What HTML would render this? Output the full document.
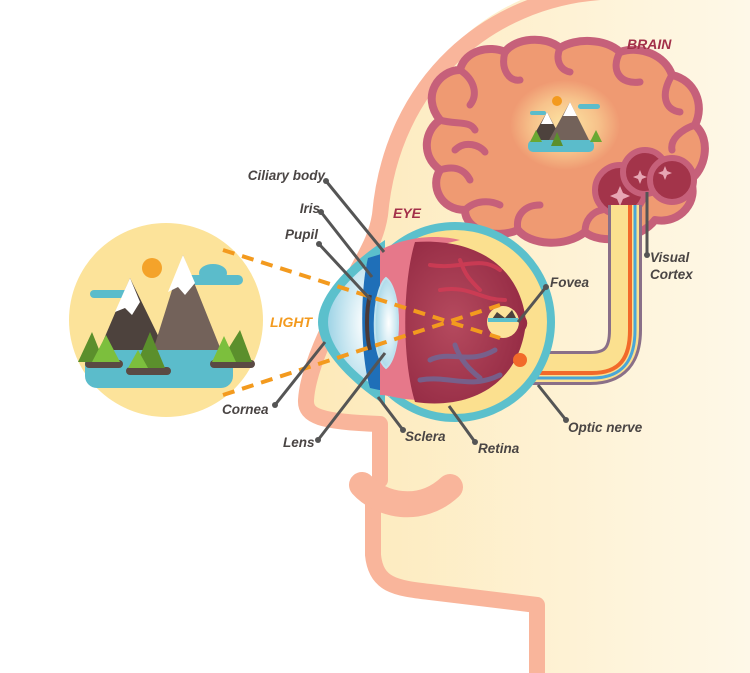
<!DOCTYPE html>
<html><head><meta charset="utf-8"><style>
html,body{margin:0;padding:0;background:#fff;}
svg{display:block;}
text{font-family:"Liberation Sans",sans-serif;font-style:italic;font-weight:bold;}
</style></head><body>
<svg width="750" height="673" viewBox="0 0 750 673" xmlns="http://www.w3.org/2000/svg">
<defs>
<linearGradient id="skin" x1="0" x2="1" y1="0" y2="0">
<stop offset="0" stop-color="#fde9b8"/><stop offset="1" stop-color="#fef8e8"/></linearGradient>
<radialGradient id="glow" cx="0.5" cy="0.5" r="0.5">
<stop offset="0" stop-color="#fde9a6"/><stop offset="0.6" stop-color="#f7c48c"/><stop offset="1" stop-color="#ef9a72"/></radialGradient>
<radialGradient id="corn" cx="0.6" cy="0.5" r="0.6">
<stop offset="0" stop-color="#ffffff"/><stop offset="1" stop-color="#9fd4e6"/></radialGradient>
<radialGradient id="inner" cx="0.4" cy="0.5" r="0.6">
<stop offset="0" stop-color="#b54a5e"/><stop offset="1" stop-color="#962c45"/></radialGradient>
</defs>

<!-- head fill -->
<path d="M600,-20 C480,-10 390,80 378,220 L360,250 C340,300 305,360 303,400 C302,418 320,422 378,424 L378,480 L368,500 L368,555 C372,585 395,590 430,595 L537,605 L537,673 L750,673 L750,-20 Z" fill="url(#skin)"/>
<!-- head outline -->
<path d="M600,-8 C490,0 392,80 380,215 C376,240 365,255 355,275 C335,315 308,365 306,400 C305,416 320,422 380,424 L380,480" fill="none" stroke="#f9b59b" stroke-width="16" stroke-linejoin="round" stroke-linecap="round"/>
<path d="M373,495 L373,555 C376,585 395,588 430,592 L537,605 L537,673" fill="none" stroke="#f9b59b" stroke-width="16" stroke-linejoin="round"/>
<path d="M362,485 C380,505 420,515 450,487" fill="none" stroke="#f9b59b" stroke-width="26" stroke-linecap="round"/>

<!-- brain -->
<g>
<path d="M440,120 C420,95 440,70 460,70 C465,50 490,45 505,52 C515,38 545,35 560,48 C575,38 605,38 620,52 C640,45 665,55 672,75 C695,80 705,105 695,125 C712,140 705,170 690,180 C700,200 680,225 655,220 C640,240 600,245 585,232 C565,248 530,245 518,230 C495,240 465,230 465,210 C440,210 430,185 440,170 C420,155 425,130 440,120 Z" fill="#ef9a72" stroke="#c6607a" stroke-width="8" stroke-linejoin="round"/>
<g fill="none" stroke="#c6607a" stroke-width="7" stroke-linecap="round">
<path d="M460,70 C475,80 478,95 470,105"/>
<path d="M505,52 C500,70 510,82 520,80"/>
<path d="M560,48 C555,60 560,70 570,72"/>
<path d="M620,52 C610,70 620,85 640,82"/>
<path d="M672,75 C660,95 665,110 680,112"/>
<path d="M695,125 C680,130 670,140 672,150"/>
<path d="M440,170 C455,165 465,170 470,180"/>
<path d="M465,210 C475,200 490,200 500,205"/>
<path d="M518,230 C515,215 525,205 540,205"/>
<path d="M585,232 C585,220 592,212 602,210"/>
<path d="M440,120 C455,125 470,120 475,130"/>
<path d="M455,150 C465,140 480,145 485,152"/>
</g>
<ellipse cx="565" cy="125" rx="55" ry="45" fill="url(#glow)" opacity="0.95"/>
<!-- visual cortex -->
<g fill="#a3344a" stroke="#c6607a" stroke-width="6">
<circle cx="620" cy="190" r="25"/><circle cx="645" cy="172" r="22"/><circle cx="672" cy="180" r="22"/>
</g>
<g fill="#e7a6b4"><path d="M620,186 l3,7 7,3 -7,3 -3,7 -3,-7 -7,-3 7,-3z"/><path d="M640,170 l2,5 5,2 -5,2 -2,5 -2,-5 -5,-2 5,-2z"/><path d="M665,166 l2,5 5,2 -5,2 -2,5 -2,-5 -5,-2 5,-2z"/></g>
<!-- mini scene -->
<circle cx="557" cy="101" r="5" fill="#f39a1e"/>
<rect x="530" y="111" width="16" height="4" rx="2" fill="#5bbccb"/><rect x="578" y="104" width="22" height="5" rx="2.5" fill="#5bbccb"/>
<polygon points="530,142 547,112 563,142" fill="#4d423d"/><polygon points="548,142 570,102 590,142" fill="#73625a"/>
<polygon points="547,112 541,124 553,124" fill="#fff"/><polygon points="570,102 563,116 577,116" fill="#fff"/>
<rect x="528" y="140" width="66" height="12" rx="5" fill="#5bbccb"/>
<polygon points="530,142 536,130 542,142" fill="#6aa833"/><polygon points="551,146 557,132 563,146" fill="#5b8f2c"/><polygon points="590,142 596,130 602,142" fill="#6aa833"/>
</g>

<!-- optic nerve -->
<g fill="none" stroke-linecap="butt">
<path d="M500,368 L590,368 C615,368 625,355 625,330 L625,205" stroke="#8a6f88" stroke-width="34"/>
<path d="M500,368 L590,368 C615,368 625,355 625,330 L625,205" stroke="#fbe08f" stroke-width="28"/>
<path d="M510,373 L592,373 C620,373 630,358 630,330 L630,205" stroke="#f26a2a" stroke-width="4"/>
<path d="M510,378 L592,378 C623,378 635,360 635,330 L635,205" stroke="#4aa6d8" stroke-width="3"/>
</g>

<!-- eye -->
<circle cx="455" cy="322" r="100" fill="#5bc0cc"/>
<path d="M385,240 C340,270 318,300 318,322 C318,345 340,375 385,405 Z" fill="#5bc0cc"/>
<circle cx="455" cy="322" r="92" fill="#fbe08f"/>
<path d="M390,248 C350,275 328,300 328,322 C328,345 350,372 390,397 Z" fill="url(#corn)"/>
<path d="M368,258 C360,290 360,355 370,388 L388,392 L388,252 Z" fill="#1f6fb8"/>
<path d="M380,250 C410,235 440,235 460,240 L420,250 L420,400 C400,400 390,395 380,395 Z" fill="#e6788a"/>
<path d="M415,242 C470,238 520,262 526,322 C520,385 470,410 415,402 C402,360 402,285 415,242 Z" fill="url(#inner)"/>
<g fill="none" stroke="#d43c55" stroke-width="4" stroke-linecap="round" opacity="0.8">
<path d="M430,265 C460,270 480,255 500,270"/><path d="M440,290 C470,285 480,300 505,300"/><path d="M460,260 C465,275 470,280 480,290"/>
</g>
<g fill="none" stroke="#6d6a9a" stroke-width="5" stroke-linecap="round" opacity="0.8">
<path d="M420,380 C450,375 470,390 500,375"/><path d="M430,360 C450,350 470,365 495,350"/><path d="M455,345 C460,360 470,370 480,378"/>
</g>
<path d="M386,278 C372,290 370,355 386,368 C402,355 402,290 386,278 Z" fill="url(#corn)" stroke="#bfe2ef" stroke-width="2"/>
<path d="M370,295 C366,310 366,335 370,350" fill="none" stroke="#4a3a38" stroke-width="4"/>
<circle cx="503" cy="322" r="16" fill="#fce39a"/>
<path d="M490,322 L497,312 L505,318 L512,310 L518,322 Z" fill="#4d423d"/><rect x="488" y="318" width="30" height="4" fill="#5bc0cc"/>
<path d="M520,315 C527,320 527,326 520,332" fill="none" stroke="#962c45" stroke-width="4"/>
<circle cx="520" cy="360" r="7" fill="#f26a2a"/>

<!-- scene circle -->
<circle cx="166" cy="320" r="97" fill="#fce39a"/>
<circle cx="152" cy="268" r="10" fill="#f4a32a"/>
<rect x="90" y="290" width="40" height="8" rx="4" fill="#5bbccb"/><rect x="185" y="275" width="58" height="10" rx="5" fill="#5bbccb"/><ellipse cx="213" cy="273" rx="14" ry="9" fill="#5bbccb"/>
<polygon points="95,360 130,278 170,360" fill="#4d423d"/><polygon points="150,360 183,255 225,360" fill="#73625a"/>
<polygon points="130,278 115,312 125,308 132,315 140,302" fill="#fff"/><polygon points="183,255 168,292 178,287 185,295 195,283" fill="#fff"/>
<rect x="85" y="350" width="148" height="38" rx="12" fill="#5bbccb"/>
<rect x="85" y="360" width="38" height="8" rx="4" fill="#5a4a44"/><rect x="126" y="367" width="45" height="8" rx="4" fill="#5a4a44"/><rect x="210" y="360" width="45" height="8" rx="4" fill="#5a4a44"/>
<g fill="#5b8f2c"><polygon points="78,362 92,332 104,362"/><polygon points="135,368 150,332 165,368"/><polygon points="220,362 240,330 252,362"/></g>
<g fill="#7cbf3d"><polygon points="92,362 106,335 120,362"/><polygon points="128,368 138,350 148,368"/><polygon points="212,362 224,336 236,362"/></g>

<!-- light rays -->
<g stroke="#f39a1e" stroke-width="4" stroke-dasharray="12,8" fill="none">
<path d="M223,250 L500,338"/><path d="M223,395 L500,305"/>
</g>

<!-- leader lines -->
<g stroke="#555" stroke-width="3" fill="none">
<path d="M326,181 L384,252"/><path d="M321,212 L372,277"/><path d="M319,244 L371,300"/>
<path d="M275,405 L325,342"/><path d="M318,440 L385,353"/><path d="M403,430 L378,397"/>
<path d="M475,442 L449,406"/><path d="M566,420 L538,385"/><path d="M546,287 L518,322"/>
<path d="M647,255 L647,192"/>
</g>
<g fill="#555"><circle cx="326" cy="181" r="3"/><circle cx="321" cy="212" r="3"/><circle cx="319" cy="244" r="3"/><circle cx="275" cy="405" r="3"/><circle cx="318" cy="440" r="3"/><circle cx="403" cy="430" r="3"/><circle cx="475" cy="442" r="3"/><circle cx="566" cy="420" r="3"/><circle cx="546" cy="287" r="3"/><circle cx="647" cy="255" r="3"/></g>

<!-- labels -->
<g fill="#4a4544" font-size="13.5">
<text x="325" y="180" text-anchor="end">Ciliary body</text>
<text x="320" y="213" text-anchor="end">Iris</text>
<text x="318" y="239" text-anchor="end">Pupil</text>
<text x="550" y="287">Fovea</text>
<text x="650" y="262">Visual</text>
<text x="650" y="279">Cortex</text>
<text x="222" y="414">Cornea</text>
<text x="283" y="447">Lens</text>
<text x="405" y="441">Sclera</text>
<text x="478" y="453">Retina</text>
<text x="568" y="432">Optic nerve</text>
</g>
<text x="393" y="218" fill="#a3304a" font-size="14">EYE</text>
<text x="627" y="49" fill="#a3304a" font-size="14">BRAIN</text>
<text x="270" y="327" fill="#f39a1e" font-size="14">LIGHT</text>
</svg>
</body></html>
